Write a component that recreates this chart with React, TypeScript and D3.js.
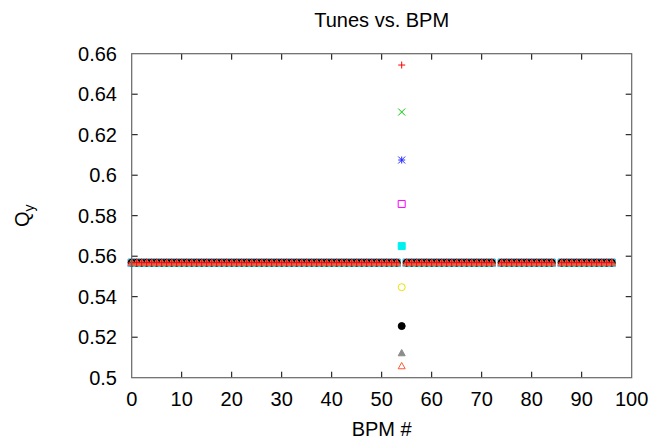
import React from "react";
import * as d3 from "d3";

// ---- data ----
const bpmIndex = [
  0, 1, 2, 3, 4, 5, 6, 7, 8, 9, 10, 11, 12, 13, 14, 15, 16, 17, 18, 19,
  20, 21, 22, 23, 24, 25, 26, 27, 28, 29, 30, 31, 32, 33, 34, 35, 36, 37, 38, 39,
  40, 41, 42, 43, 44, 45, 46, 47, 48, 49, 50, 51, 52, 53, 55, 56, 57, 58, 59,
  60, 61, 62, 63, 64, 65, 66, 67, 68, 69, 70, 71, 72, 74, 75, 76, 77, 78, 79,
  80, 81, 82, 83, 84, 86, 87, 88, 89, 90, 91, 92, 93, 94, 95, 96,
];
const baseQy = [
  0.5568, 0.5568, 0.5568, 0.5568, 0.5568, 0.5568, 0.5568, 0.5568, 0.5568, 0.5568,
  0.5568, 0.5568, 0.5568, 0.5568, 0.5568, 0.5568, 0.5568, 0.5568, 0.5568, 0.5568,
  0.5568, 0.5568, 0.5568, 0.5568, 0.5568, 0.5568, 0.5568, 0.5568, 0.5568, 0.5568,
  0.5568, 0.5568, 0.5568, 0.5568, 0.5568, 0.5568, 0.5568, 0.5568, 0.5568, 0.5568,
  0.5568, 0.5568, 0.5568, 0.5568, 0.5568, 0.5568, 0.5568, 0.5568, 0.5568, 0.5568,
  0.5568, 0.5568, 0.5568, 0.5568, 0.5568, 0.5568, 0.5568, 0.5568, 0.5568,
  0.5568, 0.5568, 0.5568, 0.5568, 0.5568, 0.5568, 0.5568, 0.5568, 0.5568, 0.5568,
  0.5568, 0.5568, 0.5568, 0.5568, 0.5568, 0.5568, 0.5568, 0.5568, 0.5568,
  0.5568, 0.5568, 0.5568, 0.5568, 0.5568, 0.5568, 0.5568, 0.5568, 0.5568, 0.5568,
  0.5568, 0.5568, 0.5568, 0.5568, 0.5568, 0.5568,
];
const specialBpm = 54;
const specialQy = [0.6544, 0.6312, 0.6075, 0.5858, 0.565, 0.5447, 0.5255, 0.5122, 0.5058];
const seriesMarkers = ["plus", "cross", "star", "square", "squareFill", "circle", "circleFill", "triFill", "tri"];
const seriesColors = ["#ff0000", "#00c800", "#2828ff", "#ff00ff", "#00f0f0", "#f0e000", "#000000", "#8c8c8c", "#ff5a30"];
// drawing order (last drawn on top)
const drawOrder = [1, 2, 3, 4, 5, 6, 7, 8, 0];
const xTicks = [0, 10, 20, 30, 40, 50, 60, 70, 80, 90, 100];
const yTicks = [0.5, 0.52, 0.54, 0.56, 0.58, 0.6, 0.62, 0.64, 0.66];

const W = 654;
const H = 441;
const FONT = "'Liberation Sans', Arial, Helvetica, sans-serif";

function markerPath(kind: string, cx: number, cy: number): string {
  const r = 3.5;
  const p = d3.path();
  switch (kind) {
    case "plus":
      p.moveTo(cx - r, cy); p.lineTo(cx + r, cy);
      p.moveTo(cx, cy - r); p.lineTo(cx, cy + r);
      break;
    case "cross":
      p.moveTo(cx - r, cy - r); p.lineTo(cx + r, cy + r);
      p.moveTo(cx - r, cy + r); p.lineTo(cx + r, cy - r);
      break;
    case "star":
      p.moveTo(cx - r, cy); p.lineTo(cx + r, cy);
      p.moveTo(cx, cy - r); p.lineTo(cx, cy + r);
      p.moveTo(cx - r, cy - r); p.lineTo(cx + r, cy + r);
      p.moveTo(cx - r, cy + r); p.lineTo(cx + r, cy - r);
      break;
    case "square":
    case "squareFill":
      p.rect(cx - r, cy - r, 2 * r, 2 * r);
      break;
    case "circle":
    case "circleFill":
      p.moveTo(cx + r, cy);
      p.arc(cx, cy, r, 0, Math.PI * 2);
      break;
    case "tri":
    case "triFill":
      p.moveTo(cx, cy - r);
      p.lineTo(cx + r, cy + r * 0.8);
      p.lineTo(cx - r, cy + r * 0.8);
      p.closePath();
      break;
  }
  return p.toString();
}

export default function App() {
  const x = d3.scaleLinear().domain([0, 100]).range([131.7, 631.7]);
  const y = d3.scaleLinear().domain([0.5, 0.66]).range([377.7, 53.7]);
  const [x0, x1] = x.range();
  const [y0, y1] = y.range();

  const series = seriesMarkers.map((m, si) => {
    const pts = bpmIndex.map((b, i) => ({ b, q: baseQy[i] }));
    pts.push({ b: specialBpm, q: specialQy[si] });
    return { marker: m, color: seriesColors[si], pts };
  });

  return (
    <svg width={W} height={H} style={{ position: "absolute", left: 0, top: 0, background: "#fff" }}>
      <rect x={0} y={0} width={W} height={H} fill="#fff" />
      {/* ticks */}
      <g stroke="#000" strokeWidth={1}>
        {xTicks.slice(1, -1).map((t) => (
          <g key={"xt" + t}>
            <line x1={x(t)} x2={x(t)} y1={y0} y2={y0 - 6} />
            <line x1={x(t)} x2={x(t)} y1={y1} y2={y1 + 6} />
          </g>
        ))}
        {yTicks.slice(1, -1).map((t) => (
          <g key={"yt" + t}>
            <line x1={x0} x2={x0 + 6} y1={y(t)} y2={y(t)} />
            <line x1={x1} x2={x1 - 6} y1={y(t)} y2={y(t)} />
          </g>
        ))}
      </g>
      {/* data */}
      {drawOrder.map((si) => {
        const s = series[si];
        const filled = s.marker.endsWith("Fill");
        return (
          <g key={"s" + si}>
            {s.pts.map((pt, i) => (
              <path
                key={i}
                d={markerPath(s.marker, x(pt.b), y(pt.q))}
                fill={filled ? s.color : "none"}
                stroke={s.color}
                strokeWidth={1}
              />
            ))}
          </g>
        );
      })}
      {/* border */}
      <rect x={x0} y={y1} width={x1 - x0} height={y0 - y1} fill="none" stroke="#666" strokeWidth={1.2} />
      {/* tick labels */}
      <g fontFamily={FONT} fontSize={20} fill="#000">
        {xTicks.map((t) => (
          <text key={"xl" + t} x={x(t)} y={406} textAnchor="middle">{d3.format("")(t)}</text>
        ))}
        {yTicks.map((t) => (
          <text key={"yl" + t} x={117} y={y(t)} dy="0.36em" textAnchor="end">{String(+t.toFixed(2))}</text>
        ))}
      </g>
      <text x={(x0 + x1) / 2} y={27} textAnchor="middle" fontFamily={FONT} fontSize={20}>Tunes vs. BPM</text>
      <text x={(x0 + x1) / 2} y={436} textAnchor="middle" fontFamily={FONT} fontSize={20}>BPM #</text>
      <text transform={`translate(29, ${(y0 + y1) / 2}) rotate(-90)`} textAnchor="middle" fontFamily={FONT} fontSize={20}>
        Q<tspan fontSize={14} dy={5}>y</tspan>
      </text>
    </svg>
  );
}
